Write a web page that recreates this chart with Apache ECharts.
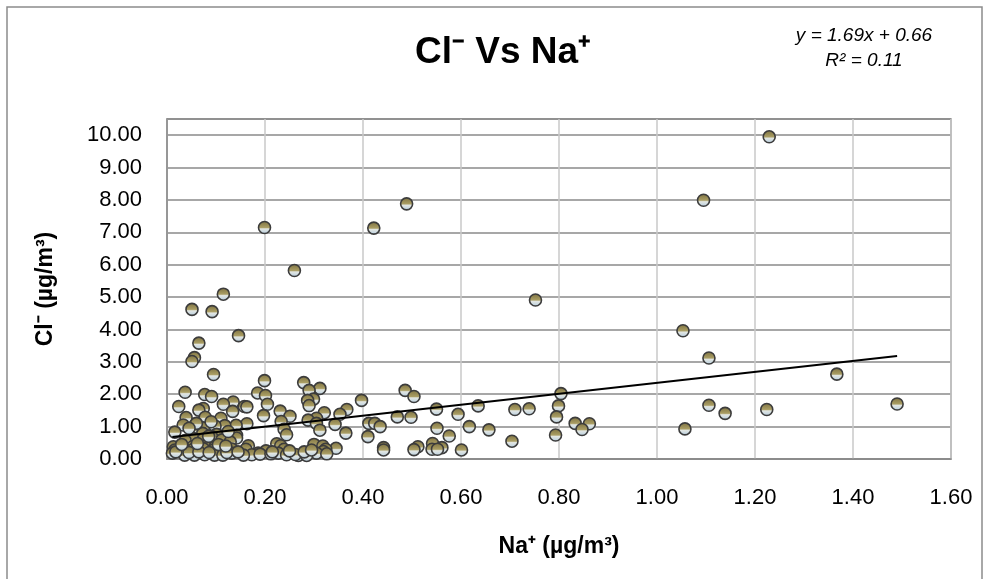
<!DOCTYPE html>
<html>
<head>
<meta charset="utf-8">
<script src="https://cdn.jsdelivr.net/npm/echarts@6/dist/echarts.min.js"></script>
<style>
html,body{margin:0;padding:0;background:#fff;}
#chart{width:995px;height:579px;}
</style>
</head>
<body>
<div id="chart"></div>
<script>
// ---- data (Na+ , Cl-) in µg/m³ ----
const naValues = [
1.229,1.095,0.489,0.199,0.422,0.260,0.115,0.051,0.092,0.752,1.053,0.146,0.065,1.106,0.056,0.051,
1.367,0.095,0.199,0.279,0.312,0.290,0.486,0.037,0.185,0.804,0.077,0.201,0.091,0.504,0.299,0.287,
0.397,0.135,1.490,0.115,0.205,0.290,1.106,0.024,0.158,0.163,0.635,0.799,0.074,0.065,0.739,0.710,
0.550,0.367,1.224,0.231,0.134,0.321,1.139,0.353,0.594,0.197,0.251,0.470,0.498,0.795,0.039,0.078,
0.110,0.305,0.288,0.233,0.412,0.424,0.833,0.862,0.343,0.305,0.033,0.163,0.141,0.118,0.098,0.435,
0.617,0.074,0.551,1.057,0.239,0.847,0.657,0.312,0.054,0.016,0.365,0.101,0.073,0.244,0.142,0.793,
0.576,0.410,0.091,0.142,0.054,0.074,0.037,0.112,0.129,0.704,0.542,0.224,0.300,0.232,0.166,0.318,
0.078,0.052,0.098,0.013,0.512,0.442,0.561,0.033,0.345,0.132,0.074,0.054,0.161,0.239,0.324,0.504,
0.541,0.552,0.442,0.601,0.016,0.095,0.202,0.112,0.319,0.011,0.132,0.186,0.227,0.305,0.173,0.244,
0.156,0.268,0.285,0.036,0.056,0.077,0.097,0.114,0.190,0.212,0.262,0.326,0.018,0.045,0.065,0.086,
0.122,0.145,0.030,0.062,0.105,0.120,0.085,0.125,0.060,0.090,0.045,0.215,0.250,0.280,0.295
];
const clValues = [
9.95,7.99,7.88,7.15,7.13,5.82,5.09,4.62,4.55,4.91,3.96,3.81,3.58,3.12,3.13,3.01,
2.62,2.61,2.42,2.36,2.18,2.12,2.12,2.06,2.04,2.02,1.99,1.96,1.93,1.93,1.85,1.81,
1.81,1.76,1.70,1.69,1.69,1.65,1.66,1.62,1.62,1.61,1.64,1.64,1.56,1.51,1.55,1.53,
1.54,1.53,1.53,1.48,1.47,1.43,1.41,1.38,1.38,1.34,1.32,1.30,1.29,1.30,1.28,1.29,
1.26,1.26,1.20,1.16,1.10,1.10,1.10,1.09,1.07,1.10,1.05,1.09,1.04,1.03,1.02,1.00,
1.00,0.96,0.95,0.93,0.92,0.91,0.90,0.89,0.89,0.83,0.80,0.76,0.79,0.75,0.73,0.74,
0.71,0.69,0.69,0.65,0.63,0.61,0.57,0.59,0.53,0.55,0.48,0.47,0.45,0.41,0.41,0.40,
0.41,0.38,0.38,0.38,0.38,0.35,0.35,0.35,0.33,0.31,0.32,0.30,0.30,0.30,0.30,0.29,
0.30,0.30,0.28,0.28,0.28,0.28,0.25,0.24,0.23,0.18,0.18,0.18,0.18,0.18,0.13,0.13,
0.12,0.11,0.11,0.12,0.12,0.13,0.12,0.12,0.15,0.16,0.14,0.16,0.22,0.20,0.22,0.20,
0.20,0.22,0.45,0.48,0.45,0.40,0.70,0.85,1.10,1.15,0.95,0.22,0.25,0.22,0.28
];
// trendline from the reference: y = 1.69x + 0.66, R² = 0.11
const trendSlope = 1.69;
const trendIntercept = 0.66;
const trendR2 = 0.11;
const xTicks = { min: 0, max: 1.6, step: 0.2 };
const yTicks = { min: 0, max: 10.5, step: 1 };

const points = naValues.map((x, i) => [x, clValues[i]]);
const xMin = Math.min(...naValues), xMax = Math.max(...naValues);
const trend = [[xMin, trendSlope * xMin + trendIntercept], [xMax, trendSlope * xMax + trendIntercept]];

const FONT = "'Liberation Sans', Arial, sans-serif";
const chart = echarts.init(document.getElementById('chart'), null, { renderer: 'canvas' });
chart.setOption({
  backgroundColor: '#ffffff',
  animation: false,
  graphic: [
    { type: 'rect', shape: { x: 7, y: 7, width: 975, height: 600 }, style: { fill: 'none', stroke: '#8c8c8c', lineWidth: 1.5 }, z: -1 },
    { type: 'text', x: 503, y: 53, style: { text: 'Cl\u207B Vs Na\u207A', font: "bold 37px " + FONT, fill: '#000', textAlign: 'center', textVerticalAlign: 'middle' } },
    { type: 'text', x: 864, y: 36, style: { text: 'y = ' + trendSlope.toFixed(2) + 'x + ' + trendIntercept.toFixed(2), font: "italic 19px " + FONT, fill: '#000', textAlign: 'center', textVerticalAlign: 'middle' } },
    { type: 'text', x: 864, y: 61, style: { text: 'R\u00B2 = ' + trendR2.toFixed(2), font: "italic 19px " + FONT, fill: '#000', textAlign: 'center', textVerticalAlign: 'middle' } }
  ],
  grid: { left: 167, right: 44, top: 119, bottom: 120, show: true, borderColor: '#8a8a8a', borderWidth: 1.5, containLabel: false },
  xAxis: {
    type: 'value', min: xTicks.min, max: xTicks.max, interval: xTicks.step,
    name: 'Na\u207A (\u00B5g/m\u00B3)', nameLocation: 'middle', nameGap: 76,
    nameTextStyle: { fontSize: 23, fontWeight: 'bold', color: '#000', fontFamily: FONT },
    axisLine: { show: true, lineStyle: { color: '#8a8a8a', width: 1.5 } },
    axisTick: { show: false },
    axisLabel: { formatter: v => v.toFixed(2), fontSize: 22, color: '#000', margin: 28, fontFamily: FONT },
    splitLine: { show: true, lineStyle: { color: '#c8c8c8', width: 1.5 } }
  },
  yAxis: {
    type: 'value', min: yTicks.min, max: yTicks.max, interval: yTicks.step,
    name: 'Cl\u207B (\u00B5g/m\u00B3)', nameLocation: 'middle', nameGap: 110, nameRotate: 90,
    nameTextStyle: { fontSize: 23, fontWeight: 'bold', color: '#000', fontFamily: FONT },
    axisLine: { show: true, lineStyle: { color: '#8a8a8a', width: 1.5 } },
    axisTick: { show: false },
    axisLabel: { formatter: v => v.toFixed(2), fontSize: 22, color: '#000', margin: 25, fontFamily: FONT, showMaxLabel: false },
    splitLine: { show: true, lineStyle: { color: '#8a8a8a', width: 1.5 } }
  },
  series: [
    {
      type: 'scatter', data: points, symbol: 'circle', symbolSize: 12, z: 2,
      itemStyle: {
        color: new echarts.graphic.LinearGradient(0, 0, 0, 1, [
          { offset: 0, color: '#7b6f3f' },
          { offset: 0.5, color: '#aa9e64' },
          { offset: 0.6, color: '#e2e6e2' },
          { offset: 1, color: '#b3cce0' }
        ]),
        borderColor: '#3c3c3c', borderWidth: 1.6, opacity: 1
      }
    },
    {
      type: 'line', data: trend, showSymbol: false, symbol: 'none', z: 3,
      lineStyle: { color: '#000', width: 2 }, silent: true
    }
  ]
});
</script>
</body>
</html>
